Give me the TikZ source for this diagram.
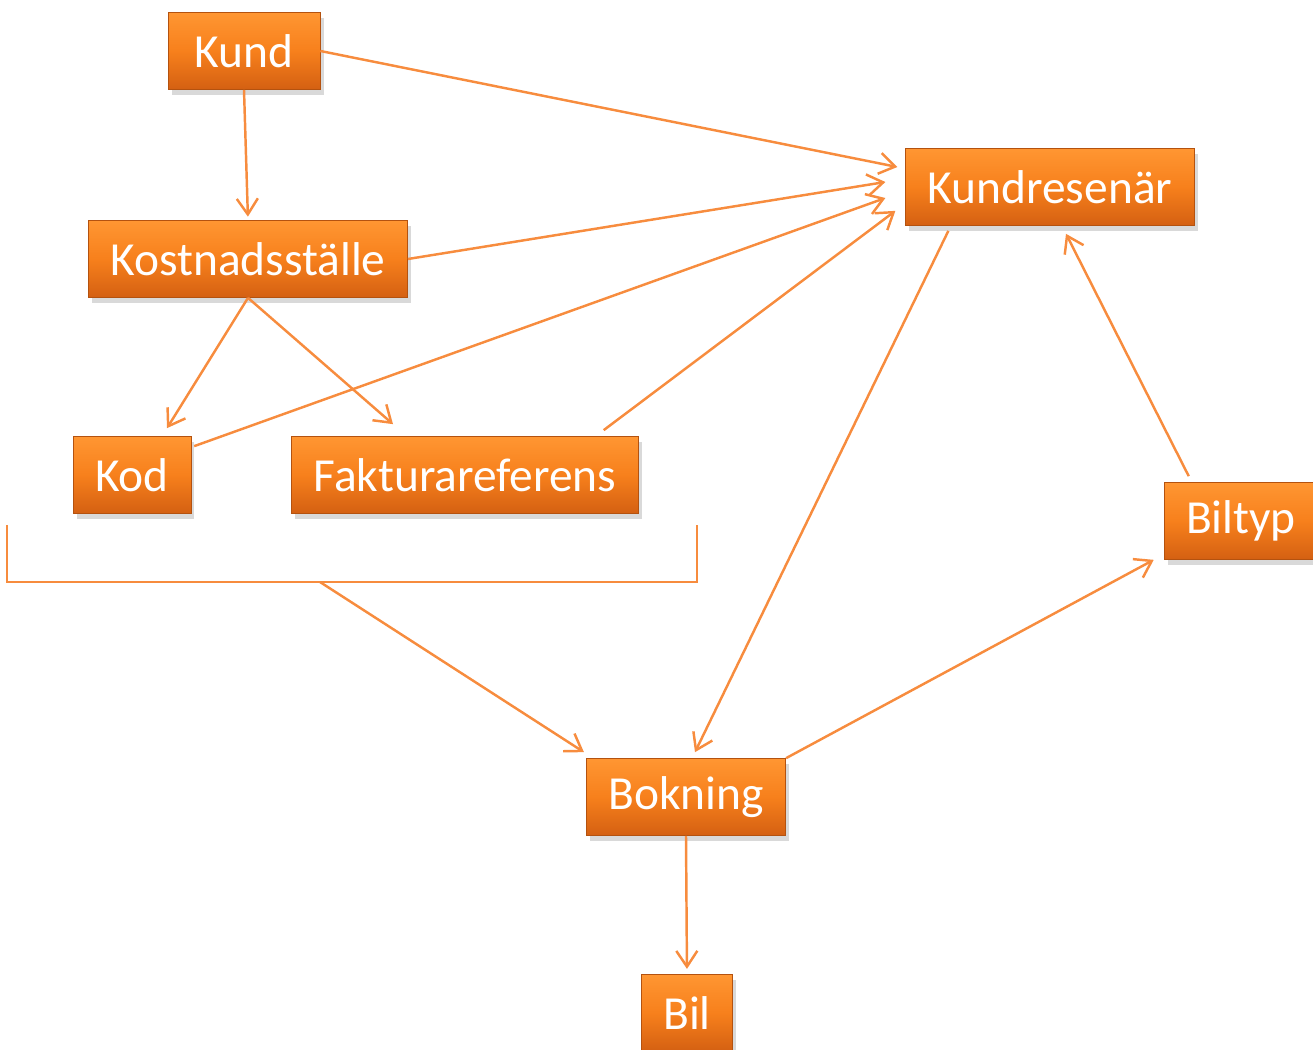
\documentclass[tikz,border=0pt]{standalone}
\usepackage{fontspec}
\setmainfont{Carlito}
\usetikzlibrary{arrows.meta,shadows,calc}
\definecolor{linjeorange}{RGB}{247,140,62}
\definecolor{rutaljus}{RGB}{255,150,50}
\definecolor{rutamitt}{RGB}{247,128,28}
\definecolor{rutamork}{RGB}{212,96,18}
\tikzset{
  ruta/.style={rectangle, top color=rutaljus, bottom color=rutamork, middle color=rutamitt,
    draw=rutamork!85!black, line width=0.4pt, text=white, inner xsep=0.44cm, minimum height=1.54cm,
    font=\fontsize{27}{32}\selectfont,
    drop shadow={shadow xshift=2pt, shadow yshift=-3pt, opacity=0.3}},
  linje/.style={draw=linjeorange, line width=1.4pt},
  pil/.style={linje, -{Straight Barb[length=9pt,width=12pt,line width=1.4pt]}}
}
\begin{document}
\begin{tikzpicture}[x=0.02cm, y=-0.02cm]
    \useasboundingbox (0,0) rectangle (1313,1050);
    % rutor
    \node[ruta, minimum width=3.04cm] (kund) at (244,51) {Kund};
    \node[ruta] (kostnad) at (248,259) {Kostnadsställe};
    \node[ruta] (kod) at (132,475) {Kod};
    \node[ruta] (faktura) at (465,475) {Fakturareferens};
    \node[ruta] (kundres) at (1050,187) {Kundresenär};
    \node[ruta] (biltyp) at (1241,521) {Biltyp};
    \node[ruta] (bokning) at (686,797) {Bokning};
    \node[ruta] (bil) at (687,1013) {Bil};
    % klammer under Kod och Fakturareferens
    \draw[linje] (7,525) -- (7,582) -- (697,582) -- (697,525);
    \coordinate (klammer) at (320,582);
    % pilar
    \draw[pil] (kund.east) -- ($(kundres.west)+(-8,-20)$);
    \draw[pil, shorten >=2] (kund.south) -- (kostnad.north);
    \draw[pil] (kostnad.east) -- ($(kundres.west)+(-20,-5)$);
    \draw[pil] (kostnad.south) -- ($(kod.north)+(35,-8)$);
    \draw[pil] (kostnad.south) -- ($(faktura.north)+(-72,-12)$);
    \draw[pil] ($(kod.north east)+(3,10)$) -- ($(kundres.west)+(-20,11)$);
    \draw[pil] ($(faktura.north east)+(-35,-6)$) -- ($(kundres.south west)+(-10,-15)$);
    \draw[pil] ($(kundres.south west)+(43,5)$) -- ($(bokning.north)+(9,-6)$);
    \draw[pil] ($(biltyp.north west)+(25,-6)$) -- ($(kundres.south)+(16,8)$);
    \draw[pil] (bokning.north east) -- ($(biltyp.south west)+(-10,0)$);
    \draw[pil, shorten >=3] (bokning.south) -- (bil.north);
    \draw[pil] (klammer) -- ($(bokning.north west)+(-2,-6)$);
\end{tikzpicture}
\end{document}
